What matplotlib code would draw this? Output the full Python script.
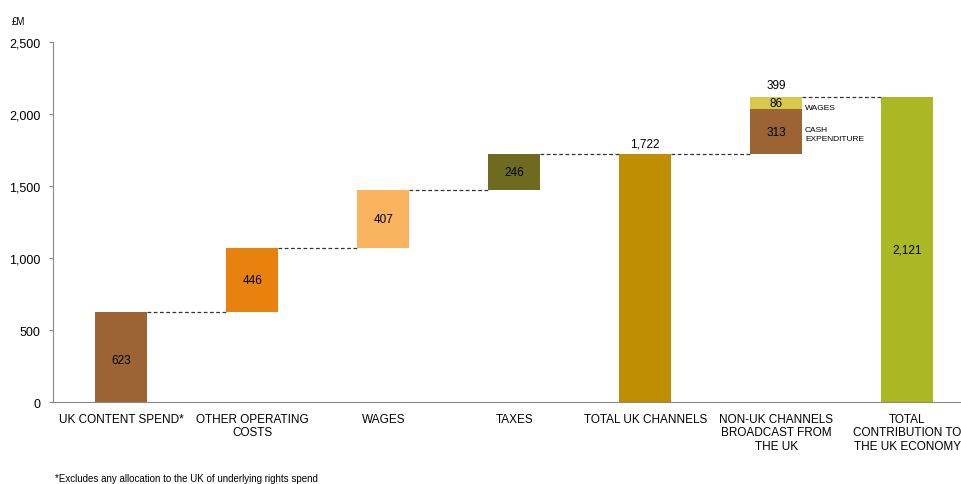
import numpy as np
import matplotlib
matplotlib.use("Agg")
import matplotlib.pyplot as plt

plt.rcParams['font.family'] = ['Liberation Sans', 'DejaVu Sans']

# data (GBP millions)
categories = ["UK CONTENT SPEND*", "OTHER OPERATING\nCOSTS", "WAGES", "TAXES",
              "TOTAL UK CHANNELS", "NON-UK CHANNELS\nBROADCAST FROM\nTHE UK",
              "TOTAL\nCONTRIBUTION TO\nTHE UK ECONOMY"]
steps = [623, 446, 407, 246]
uk_total = 1722
non_uk_cash = 313
non_uk_wages = 86
non_uk_total = 399
grand_total = 2121

c_brown = '#9C6434'
colors = [c_brown, '#E8820E', '#FAB35F', '#6E6A1F', '#BF8E02']
c_wages = '#D8C94C'
c_total = '#A9B823'

fig = plt.figure(figsize=(9.61, 4.85), dpi=100)
ax = fig.add_axes([0.0552, 0.169, 0.9448, 0.742])

w = 0.4
x = np.arange(len(categories))

# step bars
bottoms = np.concatenate([[0], np.cumsum(steps)[:-1]])
for i, (b, v) in enumerate(zip(bottoms, steps)):
    ax.bar(x[i], v, bottom=b, width=w, color=colors[i], linewidth=0)
    ax.text(x[i], b + v / 2 - (0 if i else 20), f"{v:,}", ha='center', va='center', fontsize=8.5)

# total UK channels
ax.bar(x[4], uk_total, width=w, color=colors[4], linewidth=0)
ax.text(x[4], uk_total + 30, f"{uk_total:,}", ha='center', va='bottom', fontsize=8.5)

# non-UK channels
ax.bar(x[5], non_uk_cash, bottom=uk_total, width=w, color=c_brown, linewidth=0)
ax.bar(x[5], non_uk_wages, bottom=uk_total + non_uk_cash, width=w, color=c_wages, linewidth=0)
ax.text(x[5], uk_total + non_uk_cash / 2, f"{non_uk_cash}", ha='center', va='center', fontsize=8.5)
ax.text(x[5], uk_total + non_uk_cash + non_uk_wages / 2, f"{non_uk_wages}", ha='center', va='center', fontsize=8.5)
ax.text(x[5], uk_total + non_uk_total + 40, f"{non_uk_total}", ha='center', va='bottom', fontsize=8.5)
ax.text(x[5] + w / 2 + 0.02, uk_total + non_uk_cash + non_uk_wages / 2 - 35, "WAGES",
        ha='left', va='center', fontsize=6)
ax.text(x[5] + w / 2 + 0.02, uk_total + non_uk_cash / 2 - 15, "CASH\nEXPENDITURE",
        ha='left', va='center', fontsize=6, linespacing=1.5)

# grand total
ax.bar(x[6], grand_total, width=w, color=c_total, linewidth=0)
ax.text(x[6], grand_total / 2, f"{grand_total:,}", ha='center', va='center', fontsize=8.5)

# dashed connectors
levels = list(np.cumsum(steps)) + [uk_total, grand_total]
for i in range(6):
    ax.plot([x[i] + w / 2, x[i + 1] - w / 2], [levels[i], levels[i]],
            ls=(0, (3, 2)), color='#333333', lw=0.9)

ax.set_xlim(-0.52, 6.41)
ax.set_ylim(0, 2500)
ax.set_yticks(np.arange(0, 2501, 500))
ax.set_yticklabels([f"{v:,}" for v in range(0, 2501, 500)], fontsize=9)
ax.set_xticks(x)
ax.set_xticklabels(categories, fontsize=8.5, linespacing=1.15)
ax.tick_params(axis='x', length=0, pad=8)
ax.tick_params(axis='y', length=3, color='#888888', pad=6)
for s in ['top', 'right']:
    ax.spines[s].set_visible(False)
ax.spines['left'].set_color('#888888')
ax.spines['bottom'].set_color('#888888')

fig.text(0.012, 0.955, "£M", fontsize=7, ha='left', va='center')
fig.text(0.057, 0.013, "*Excludes any allocation to the UK of underlying rights spend",
         fontsize=7, ha='left', va='center')

fig.savefig("out.png", dpi=100)
